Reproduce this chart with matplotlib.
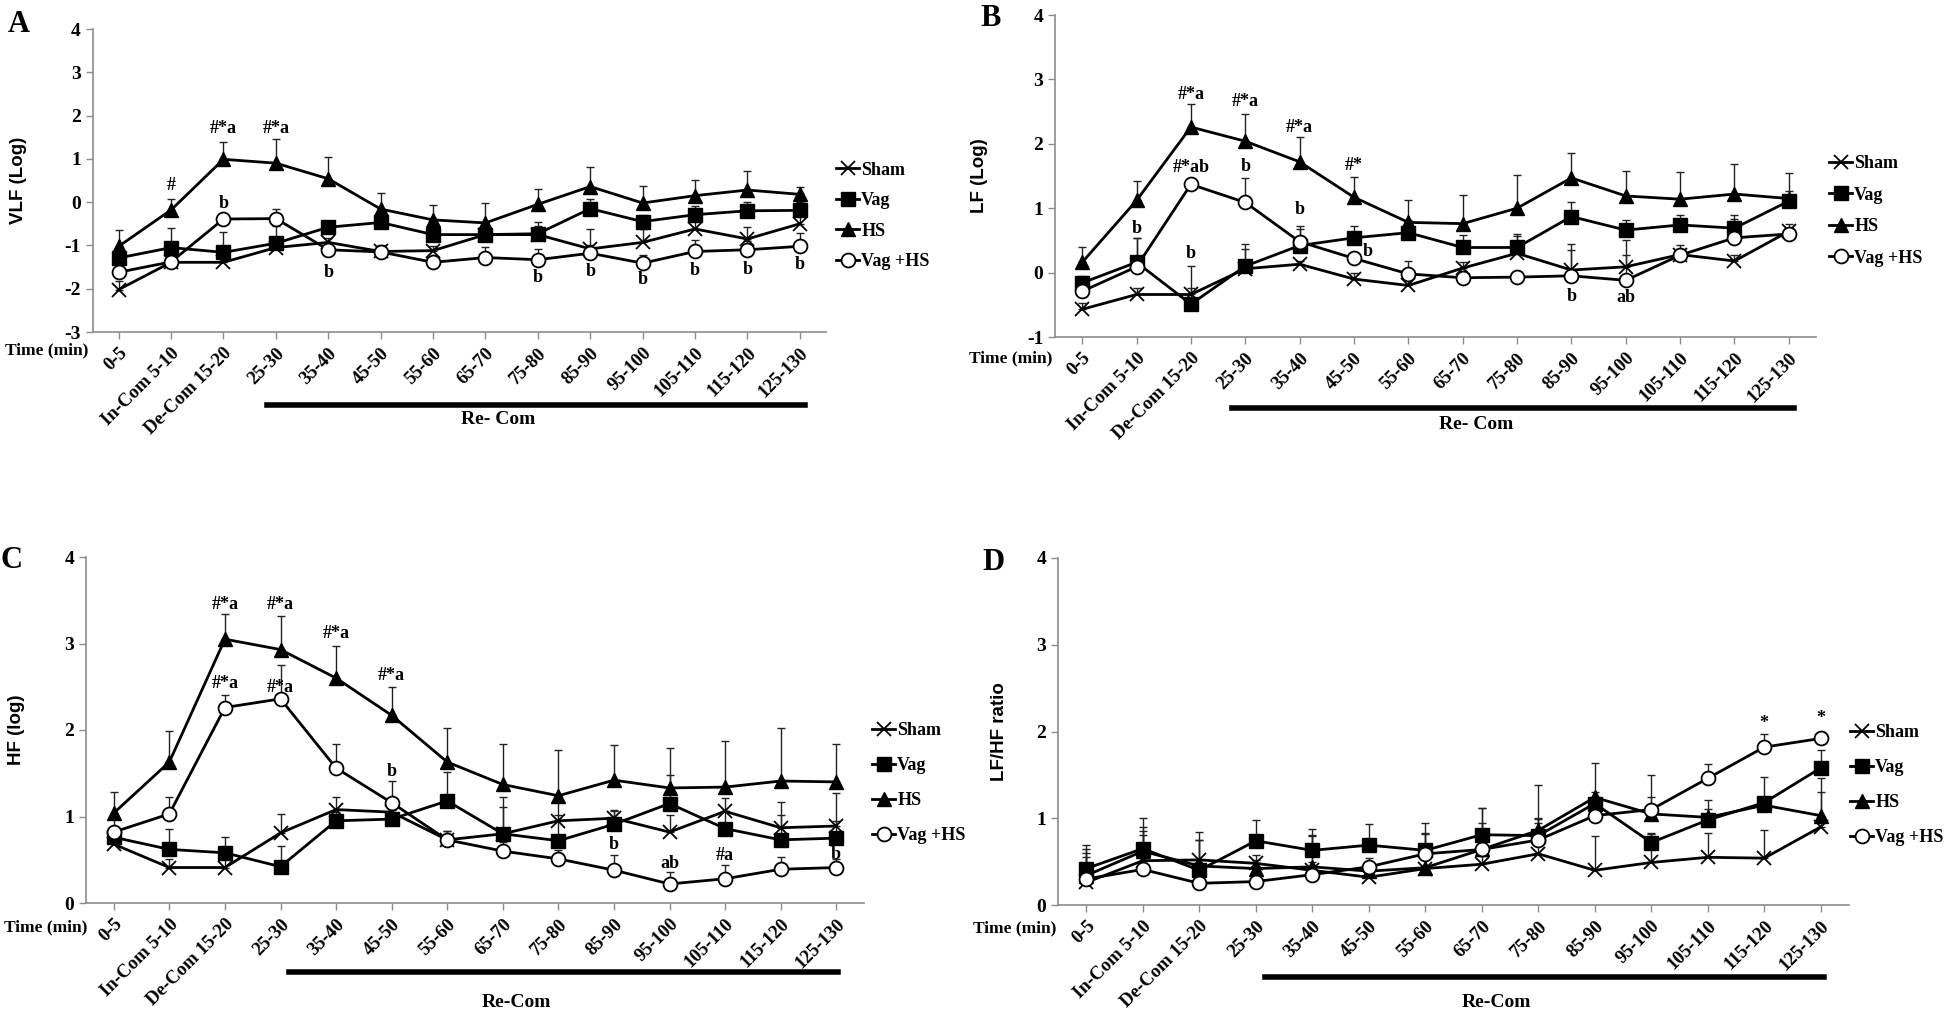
import matplotlib.pyplot as plt
import matplotlib.transforms as mtransforms
from matplotlib.lines import Line2D
import numpy as np

plt.rcParams['font.family'] = ['Liberation Serif', 'DejaVu Serif']
plt.rcParams['font.weight'] = 'bold'
plt.rcParams['axes.unicode_minus'] = False

periods = ['0-5', 'In-Com 5-10', 'De-Com 15-20', '25-30', '35-40', '45-50', '55-60',
           '65-70', '75-80', '85-90', '95-100', '105-110', '115-120', '125-130']
groups = ['Sham', 'Vag', 'HS', 'Vag +HS']

# A - VLF (log)
vlf_sham = [-2.02, -1.39, -1.39, -1.05, -0.93, -1.14, -1.12, -0.75, -0.75, -1.08, -0.93, -0.62, -0.85, -0.50]
vlf_vag = [-1.29, -1.05, -1.16, -0.95, -0.58, -0.47, -0.75, -0.75, -0.73, -0.15, -0.45, -0.29, -0.20, -0.19]
vlf_hs = [-1.02, -0.18, 0.99, 0.90, 0.54, -0.16, -0.41, -0.48, -0.05, 0.36, -0.02, 0.15, 0.28, 0.18]
vlf_vaghs = [-1.62, -1.38, -0.39, -0.38, -1.10, -1.15, -1.39, -1.28, -1.33, -1.18, -1.41, -1.14, -1.10, -1.02]
vlf_sham_se = [0.20, 0.10, 0.10, 0.10, 0.10, 0.15, 0.10, 0.20, 0.20, 0.45, 0.30, 0.20, 0.28, 0.20]
vlf_vag_se = [0.20, 0.45, 0.48, 0.40, 0.12, 0.20, 0.20, 0.25, 0.28, 0.23, 0.15, 0.20, 0.20, 0.20]
vlf_hs_se = [0.37, 0.26, 0.41, 0.55, 0.51, 0.38, 0.34, 0.46, 0.35, 0.46, 0.40, 0.37, 0.43, 0.18]
vlf_vaghs_se = [0.15, 0.10, 0.10, 0.22, 0.10, 0.10, 0.10, 0.25, 0.25, 0.20, 0.20, 0.27, 0.20, 0.30]

# B - LF (log)
lf_sham = [-0.57, -0.34, -0.34, 0.06, 0.13, -0.10, -0.20, 0.07, 0.30, 0.04, 0.09, 0.28, 0.18, 0.64]
lf_vag = [-0.16, 0.16, -0.49, 0.10, 0.42, 0.54, 0.62, 0.39, 0.39, 0.87, 0.66, 0.74, 0.69, 1.11]
lf_hs = [0.16, 1.12, 2.26, 2.04, 1.72, 1.17, 0.78, 0.76, 1.00, 1.47, 1.19, 1.14, 1.22, 1.15]
lf_vaghs = [-0.29, 0.09, 1.37, 1.09, 0.48, 0.22, -0.02, -0.08, -0.07, -0.05, -0.12, 0.27, 0.54, 0.60]
lf_sham_se = [0.10, 0.10, 0.10, 0.30, 0.05, 0.10, 0.10, 0.10, 0.30, 0.31, 0.18, 0.15, 0.10, 0.12]
lf_vag_se = [0.10, 0.37, 0.60, 0.35, 0.30, 0.18, 0.20, 0.19, 0.18, 0.22, 0.15, 0.15, 0.21, 0.15]
lf_hs_se = [0.23, 0.31, 0.36, 0.42, 0.39, 0.32, 0.34, 0.44, 0.51, 0.38, 0.39, 0.42, 0.47, 0.39]
lf_vaghs_se = [0.10, 0.44, 0.10, 0.38, 0.20, 0.10, 0.20, 0.10, 0.10, 0.49, 0.62, 0.10, 0.30, 0.10]

# C - HF (log)
hf_sham = [0.68, 0.41, 0.41, 0.81, 1.08, 1.05, 0.73, 0.80, 0.95, 0.98, 0.82, 1.06, 0.87, 0.89]
hf_vag = [0.76, 0.62, 0.58, 0.42, 0.95, 0.97, 1.18, 0.80, 0.72, 0.91, 1.15, 0.86, 0.73, 0.75]
hf_hs = [1.04, 1.63, 3.05, 2.93, 2.60, 2.17, 1.63, 1.37, 1.24, 1.42, 1.33, 1.34, 1.41, 1.40]
hf_vaghs = [0.82, 1.03, 2.26, 2.36, 1.56, 1.16, 0.73, 0.60, 0.51, 0.38, 0.22, 0.28, 0.39, 0.41]
hf_sham_se = [0.10, 0.10, 0.10, 0.22, 0.15, 0.10, 0.10, 0.31, 0.25, 0.10, 0.20, 0.15, 0.30, 0.38]
hf_vag_se = [0.10, 0.24, 0.18, 0.24, 0.10, 0.10, 0.33, 0.42, 0.30, 0.15, 0.33, 0.20, 0.29, 0.20]
hf_hs_se = [0.24, 0.36, 0.29, 0.39, 0.37, 0.33, 0.39, 0.47, 0.53, 0.41, 0.46, 0.53, 0.61, 0.44]
hf_vaghs_se = [0.15, 0.20, 0.14, 0.39, 0.28, 0.25, 0.10, 0.10, 0.10, 0.18, 0.14, 0.16, 0.14, 0.10]

# D - LF/HF ratio
ratio_sham = [0.26, 0.51, 0.52, 0.48, 0.40, 0.32, 0.42, 0.47, 0.59, 0.40, 0.49, 0.55, 0.54, 0.90]
ratio_vag = [0.42, 0.65, 0.40, 0.74, 0.63, 0.69, 0.63, 0.81, 0.80, 1.17, 0.72, 0.98, 1.18, 1.58]
ratio_hs = [0.34, 0.62, 0.45, 0.42, 0.44, 0.39, 0.43, 0.64, 0.86, 1.24, 1.05, 1.01, 1.15, 1.03]
ratio_vaghs = [0.30, 0.41, 0.25, 0.27, 0.35, 0.44, 0.59, 0.64, 0.75, 1.03, 1.10, 1.46, 1.82, 1.92]
ratio_sham_se = [0.34, 0.30, 0.23, 0.10, 0.10, 0.10, 0.10, 0.10, 0.40, 0.40, 0.34, 0.28, 0.32, 0.40]
ratio_vag_se = [0.27, 0.35, 0.44, 0.24, 0.25, 0.24, 0.31, 0.31, 0.20, 0.13, 0.10, 0.23, 0.30, 0.21]
ratio_hs_se = [0.31, 0.28, 0.30, 0.10, 0.37, 0.10, 0.40, 0.30, 0.52, 0.40, 0.19, 0.10, 0.10, 0.43]
ratio_vaghs_se = [0.25, 0.44, 0.10, 0.10, 0.45, 0.10, 0.23, 0.48, 0.20, 0.10, 0.40, 0.17, 0.15, 0.08]

# significance marks: (time index, y, label)
notes_a = [(1, 0.38, '#'), (2, 1.71, '#*a'), (3, 1.71, '#*a'), (2, -0.02, 'b'), (4, -1.62, 'b'),
           (8, -1.75, 'b'), (9, -1.60, 'b'), (10, -1.79, 'b'), (11, -1.58, 'b'), (12, -1.55, 'b'), (13, -1.43, 'b')]
notes_b = [(2, 2.76, '#*a'), (3, 2.65, '#*a'), (4, 2.26, '#*a'), (5, 1.67, '#*'), (2, 1.63, '#*ab'),
           (3, 1.65, 'b'), (4, 0.98, 'b'), (1, 0.68, 'b'), (2, 0.30, 'b'), (5.25, 0.32, 'b'),
           (9, -0.37, 'b'), (10, -0.38, 'ab')]
notes_c = [(2, 3.45, '#*a'), (3, 3.45, '#*a'), (4, 3.12, '#*a'), (5, 2.63, '#*a'), (2, 2.54, '#*a'),
           (3, 2.49, '#*a'), (5, 1.52, 'b'), (9, 0.68, 'b'), (10, 0.46, 'ab'), (11, 0.55, '#a'), (13, 0.56, 'b')]
notes_d = [(12, 2.09, '*'), (13, 2.15, '*')]

W, H = 1946, 1010
fig = plt.figure(figsize=(W / 100, H / 100), dpi=100)

styles = [dict(marker='x', ms=10, mew=1.3, mfc='k', mec='k'),
          dict(marker='s', ms=10, mfc='k', mec='k'),
          dict(marker='^', ms=10, mfc='k', mec='k'),
          dict(marker='o', ms=10, mfc='white', mec='k', mew=1.3)]
grey = '#8c8c8c'


def draw_panel(px, letter, letter_px, ylabel, ylabel_x, ylim, values, errors, notes,
               leg_px, leg_space, recom, bar_x, bar_y, text_y, time_px):
    left, top, right, bottom = px
    ax = fig.add_axes([left / W, 1 - bottom / H, (right - left) / W, (bottom - top) / H])
    x = np.arange(len(periods))
    for vals, err in zip(values, errors):
        ax.errorbar(x, vals, yerr=[np.zeros(len(err)), err], fmt='none', ecolor='#222222',
                    elinewidth=1.0, capsize=3, capthick=1.0, zorder=2)
    for vals, st, name in zip(values, styles, groups):
        ax.plot(x, vals, color='k', lw=2.0, zorder=3, label=name, **st)
    for i, yv, txt in notes:
        ax.text(i, yv, txt, ha='center', va='center', fontsize=13, fontweight='bold', zorder=4)

    ax.set_xlim(-0.5, 13.5)
    ax.set_ylim(*ylim)
    ax.set_yticks(np.arange(ylim[0], ylim[1] + 1))
    ax.set_xticks(x)
    ax.set_xticklabels(periods, rotation=45, ha='right', va='top', rotation_mode='anchor',
                       fontsize=13.5, fontweight='bold')
    for lab in ax.get_yticklabels():
        lab.set_fontsize(14)
        lab.set_fontweight('bold')
    for s in ['top', 'right']:
        ax.spines[s].set_visible(False)
    for s in ['left', 'bottom']:
        ax.spines[s].set_color(grey)
        ax.spines[s].set_linewidth(1.2)
    ax.tick_params(axis='both', direction='out', color=grey, length=5, width=1.0)
    ax.tick_params(axis='x', pad=4)

    ax.set_ylabel(ylabel, family='Liberation Sans', fontsize=13.5, fontweight='bold')
    ax.yaxis.set_label_coords(ylabel_x, 0.5)

    trans = mtransforms.blended_transform_factory(ax.transData, ax.transAxes)
    ax.plot(bar_x, [bar_y, bar_y], color='k', lw=4, transform=trans, clip_on=False)
    ax.text(7.25, text_y, recom, transform=trans, ha='center', va='center', fontsize=14,
            fontweight='bold')

    fig.text(letter_px[0] / W, 1 - letter_px[1] / H, letter, fontsize=22, fontweight='bold',
             ha='left', va='center')
    fig.text(time_px[0] / W, 1 - time_px[1] / H, 'Time (min)', fontsize=12.5, fontweight='bold',
             ha='right', va='center')

    handles = [Line2D([], [], color='k', lw=2.0, **st) for st in styles]
    fig.legend(handles, groups, loc='center left', bbox_to_anchor=(leg_px[0] / W, 1 - leg_px[1] / H),
               frameon=False, handlelength=1.3, handletextpad=0.1,
               labelspacing=leg_space, borderpad=0, borderaxespad=0,
               prop=dict(family='Liberation Serif', weight='bold', size=13))
    return ax


draw_panel((92.5, 29, 826, 332), 'A', (8, 24), 'VLF (Log)', -0.089, (-3, 4),
           [vlf_sham, vlf_vag, vlf_hs, vlf_vaghs],
           [vlf_sham_se, vlf_vag_se, vlf_hs_se, vlf_vaghs_se], notes_a,
           (836, 216), 0.75, 'Re- Com', [2.83, 13.1], -0.241, -0.29, (88, 350))

draw_panel((1055, 15, 1816, 337), 'B', (980, 18), 'LF (Log)', -0.088, (-1, 4),
           [lf_sham, lf_vag, lf_hs, lf_vaghs],
           [lf_sham_se, lf_vag_se, lf_hs_se, lf_vaghs_se], notes_b,
           (1829, 211), 0.8, 'Re- Com', [2.76, 13.1], -0.22, -0.273, (1052, 358))

draw_panel((86, 557, 864, 903), 'C', (0, 560), 'HF (log)', -0.078, (0, 4),
           [hf_sham, hf_vag, hf_hs, hf_vaghs],
           [hf_sham_se, hf_vag_se, hf_hs_se, hf_vaghs_se], notes_c,
           (872, 783), 1.0, 'Re-Com', [3.16, 13.03], -0.20, -0.287, (87, 927))

draw_panel((1058, 558, 1849, 905), 'D', (982, 562), 'LF/HF ratio', -0.063, (0, 4),
           [ratio_sham, ratio_vag, ratio_hs, ratio_vaghs],
           [ratio_sham_se, ratio_vag_se, ratio_hs_se, ratio_vaghs_se], notes_d,
           (1850, 785), 1.0, 'Re-Com', [3.16, 13.05], -0.207, -0.28, (1056, 928))

fig.savefig('out.png', dpi=100)
